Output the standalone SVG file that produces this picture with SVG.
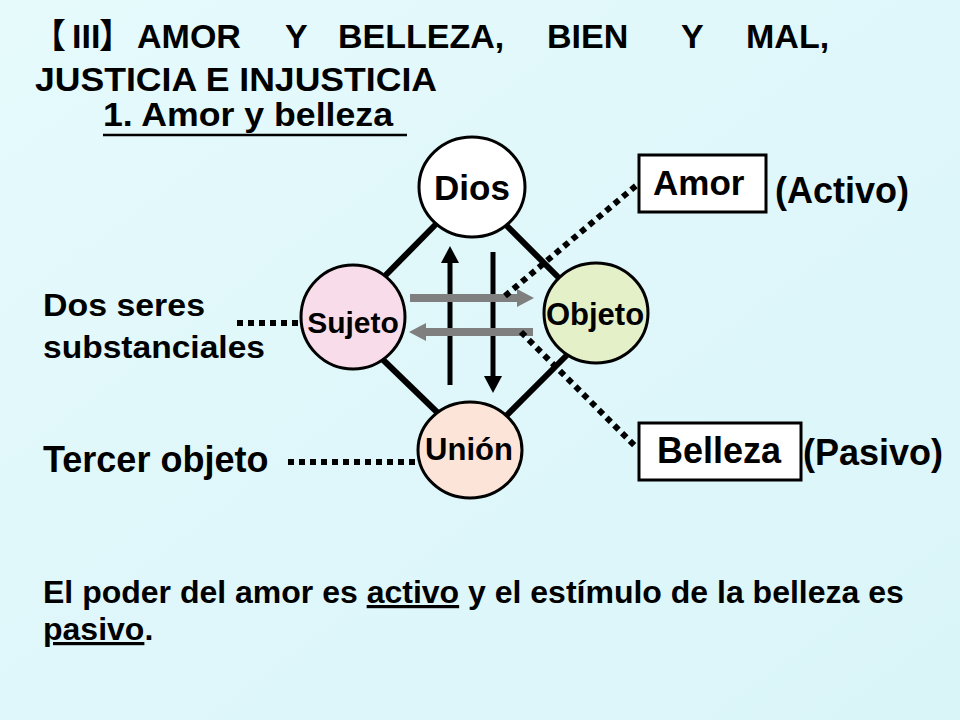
<svg xmlns="http://www.w3.org/2000/svg" width="960" height="720" viewBox="0 0 960 720">
<defs>
<linearGradient id="bg" x1="0" y1="0" x2="1" y2="1">
<stop offset="0" stop-color="#e6fafc"/>
<stop offset="0.5" stop-color="#dff7fa"/>
<stop offset="1" stop-color="#daf5f8"/>
</linearGradient>
<marker id="hb" markerUnits="userSpaceOnUse" markerWidth="17" markerHeight="18" refX="0" refY="9" orient="auto">
<path d="M0,0 L17,9 L0,18 z" fill="#000"/>
</marker>
<marker id="hg" markerUnits="userSpaceOnUse" markerWidth="17" markerHeight="18" refX="0" refY="9" orient="auto">
<path d="M0,0 L17,9 L0,18 z" fill="#7f7f7f"/>
</marker>
</defs>
<style>
text{font-family:"Liberation Sans",Arial,"Noto Sans CJK JP",sans-serif;font-weight:bold;fill:#000}
.cjk{font-family:"Noto Sans CJK JP","Liberation Sans",sans-serif}
.t{font-size:34px}
.nd{stroke:#000;stroke-width:3}
.edge{stroke:#000;stroke-width:6;fill:none}
.dot{stroke:#000;stroke-width:6;stroke-dasharray:6 5;fill:none}
.va{stroke:#000;stroke-width:5;fill:none;marker-end:url(#hb)}
.ha{stroke:#7f7f7f;stroke-width:8;fill:none;marker-end:url(#hg)}
.box{fill:#fff;stroke:#000;stroke-width:3}
</style>
<rect width="960" height="720" fill="url(#bg)"/>

<g id="title">
<text class="t" y="48"><tspan class="cjk" x="32">【</tspan><tspan x="72">III</tspan><tspan class="cjk" x="99">】</tspan><tspan x="137">AMOR</tspan><tspan x="285">Y</tspan><tspan x="338">BELLEZA,</tspan><tspan x="547">BIEN</tspan><tspan x="681">Y</tspan><tspan x="746">MAL,</tspan></text>
<text class="t" x="35" y="91" textLength="402" lengthAdjust="spacingAndGlyphs">JUSTICIA E INJUSTICIA</text>
<text class="t" x="103" y="126" textLength="290" lengthAdjust="spacingAndGlyphs">1. Amor y belleza</text>
<line x1="103" y1="135" x2="407" y2="135" stroke="#000" stroke-width="2.5"/>
</g>

<g id="connectors">
<line class="edge" x1="442" y1="218" x2="376" y2="285"/>
<line class="edge" x1="501" y1="220" x2="565" y2="284"/>
<line class="edge" x1="376" y1="353" x2="440" y2="415"/>
<line class="edge" x1="572" y1="350" x2="503" y2="419"/>
</g>

<g id="node-dios"><ellipse class="nd" cx="472" cy="187" rx="53" ry="50" fill="#fff"/><text x="472" y="200" font-size="35" text-anchor="middle">Dios</text></g>
<g id="node-sujeto"><ellipse class="nd" cx="353" cy="317" rx="52" ry="52" fill="#f9dcea"/><text x="353" y="333" font-size="30" text-anchor="middle">Sujeto</text></g>
<g id="node-objeto"><ellipse class="nd" cx="596" cy="313" rx="52" ry="50" fill="#e3f0c8"/><text x="595" y="325" font-size="31" text-anchor="middle">Objeto</text></g>
<g id="node-union"><ellipse class="nd" cx="470" cy="450" rx="52" ry="48" fill="#fce5d8"/><text x="469" y="460" font-size="31" text-anchor="middle">Unión</text></g>

<g id="arrows">
<line class="va" x1="450" y1="385" x2="450" y2="263"/>
<line class="va" x1="493" y1="252" x2="493" y2="376"/>
<line class="ha" x1="410" y1="298" x2="517" y2="298"/>
<line class="ha" x1="533" y1="332" x2="426" y2="332"/>
<line class="dot" x1="505" y1="296" x2="638" y2="184"/>
<line class="dot" x1="521" y1="332" x2="636" y2="447"/>
<line class="dot" x1="237" y1="323" x2="302" y2="323"/>
<line class="dot" x1="288" y1="462" x2="418" y2="462"/>
</g>

<g id="node-amor"><rect class="box" x="639" y="155" width="127" height="57"/><text x="653" y="195" font-size="35">Amor</text></g>
<text x="775" y="203" font-size="36">(Activo)</text>
<g id="node-belleza"><rect class="box" x="639" y="423" width="162" height="57"/><text x="657" y="463" font-size="36">Belleza</text></g>
<text x="803" y="465" font-size="36">(Pasivo)</text>

<g id="left-labels">
<text x="43" y="316" font-size="32" textLength="162" lengthAdjust="spacingAndGlyphs">Dos seres</text>
<text x="43" y="358" font-size="32" textLength="222" lengthAdjust="spacingAndGlyphs">substanciales</text>
<text x="43" y="472" font-size="36">Tercer objeto</text>
</g>

<g id="caption">
<text x="43" y="603" font-size="32">El poder del amor es <tspan text-decoration="underline">activo</tspan> y el estímulo de la belleza es</text>
<text x="43" y="640" font-size="32"><tspan text-decoration="underline">pasivo</tspan>.</text>
</g>
</svg>
